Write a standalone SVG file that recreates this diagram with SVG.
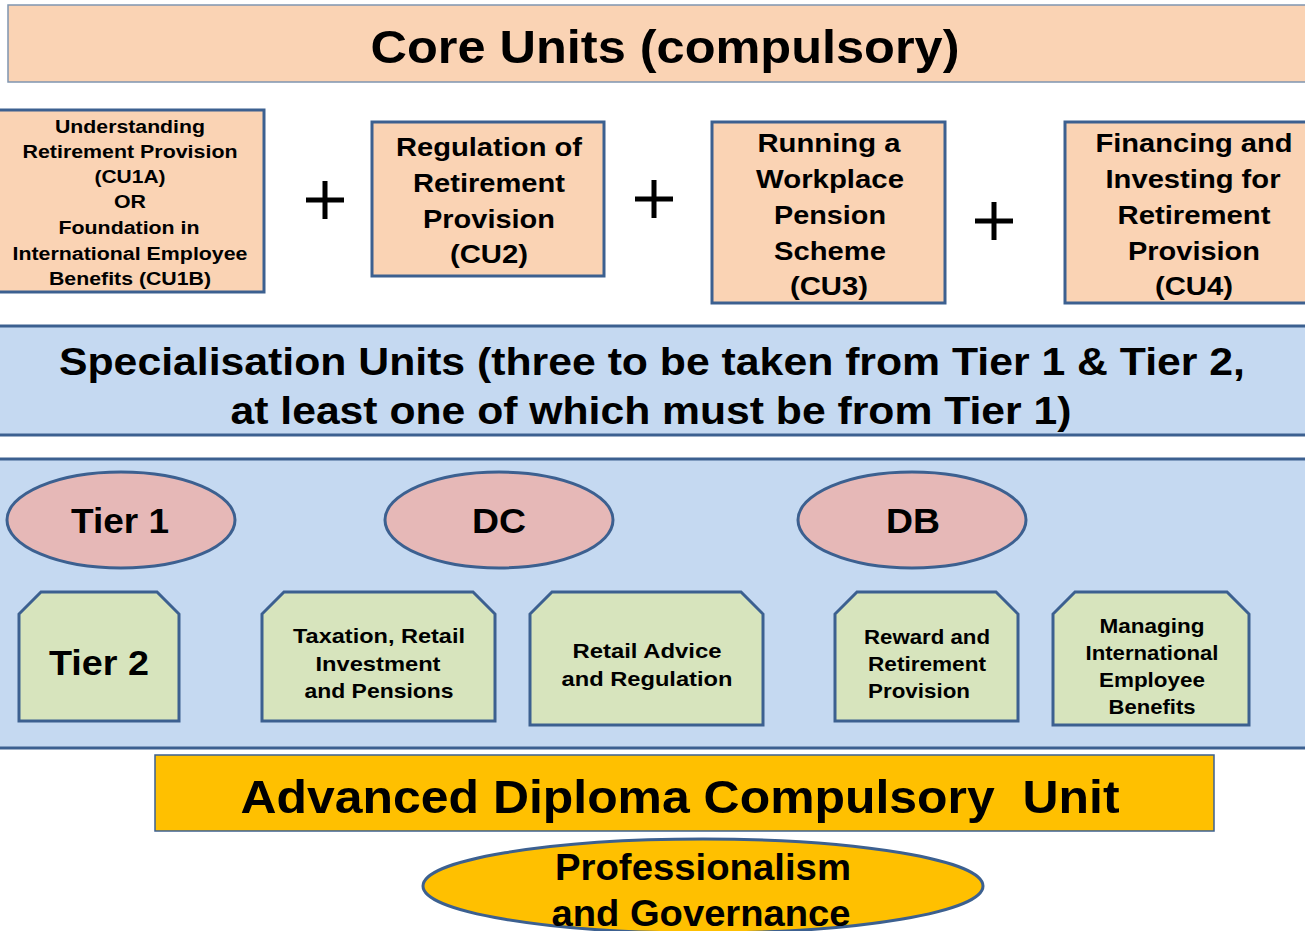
<svg xmlns="http://www.w3.org/2000/svg" width="1305" height="931" viewBox="0 0 1305 931">
<style>
text{font-family:"Liberation Sans",Arial,sans-serif;font-weight:bold;fill:#000;text-anchor:middle}
.core{fill:#FAD3B4;stroke:#3C6090;stroke-width:3}
.spec{fill:#C5D9F1;stroke:#3C6090;stroke-width:3}
.ell{fill:#E6B8B7;stroke:#3C6090;stroke-width:3}
.oct{fill:#D7E4BD;stroke:#3C6090;stroke-width:3}
.gold{fill:#FFC000;stroke:#3C6090}
.plus{stroke:#000;stroke-width:5}
.t17{font-size:18px}
.t24{font-size:25px}
.t21{font-size:21px}
.t34{font-size:35px}
</style>
<g id="core-banner">
<rect x="8" y="5" width="1305" height="77" fill="#FAD3B4" stroke="#7F95B0" stroke-width="1.5"/>
<text x="665" y="63" font-size="47" textLength="589" lengthAdjust="spacingAndGlyphs">Core Units (compulsory)</text>
</g>
<g id="cu1" class="t17">
<rect class="core" x="-2" y="110" width="266" height="182"/>
<text class="t17" x="130" y="133" textLength="150" lengthAdjust="spacingAndGlyphs">Understanding</text>
<text class="t17" x="130" y="158" textLength="215" lengthAdjust="spacingAndGlyphs">Retirement Provision</text>
<text class="t17" x="130" y="183" textLength="71" lengthAdjust="spacingAndGlyphs">(CU1A)</text>
<text class="t17" x="130" y="208" textLength="32" lengthAdjust="spacingAndGlyphs">OR</text>
<text class="t17" x="129" y="234" textLength="141" lengthAdjust="spacingAndGlyphs">Foundation in</text>
<text class="t17" x="130" y="260" textLength="235" lengthAdjust="spacingAndGlyphs">International Employee</text>
<text class="t17" x="130" y="285" textLength="162" lengthAdjust="spacingAndGlyphs">Benefits (CU1B)</text>
</g>
<g id="plus1"><path class="plus" d="M306 200h38M325 181v38"/></g>
<g id="cu2">
<rect class="core" x="372" y="122" width="232" height="154"/>
<text class="t24" x="489" y="156" textLength="186" lengthAdjust="spacingAndGlyphs">Regulation of</text>
<text class="t24" x="489" y="192" textLength="152" lengthAdjust="spacingAndGlyphs">Retirement</text>
<text class="t24" x="489" y="228" textLength="132" lengthAdjust="spacingAndGlyphs">Provision</text>
<text class="t24" x="489" y="263" textLength="78" lengthAdjust="spacingAndGlyphs">(CU2)</text>
</g>
<g id="plus2"><path class="plus" d="M635 199h38M654 180v38"/></g>
<g id="cu3">
<rect class="core" x="712" y="122" width="233" height="181"/>
<text class="t24" x="829" y="152" textLength="143" lengthAdjust="spacingAndGlyphs">Running a</text>
<text class="t24" x="830" y="188" textLength="148" lengthAdjust="spacingAndGlyphs">Workplace</text>
<text class="t24" x="830" y="224" textLength="112" lengthAdjust="spacingAndGlyphs">Pension</text>
<text class="t24" x="830" y="260" textLength="112" lengthAdjust="spacingAndGlyphs">Scheme</text>
<text class="t24" x="829" y="295" textLength="78" lengthAdjust="spacingAndGlyphs">(CU3)</text>
</g>
<g id="plus3"><path class="plus" d="M975 221h38M994 202v38"/></g>
<g id="cu4">
<rect class="core" x="1065" y="122" width="250" height="181"/>
<text class="t24" x="1194" y="152" textLength="197" lengthAdjust="spacingAndGlyphs">Financing and</text>
<text class="t24" x="1193" y="188" textLength="175" lengthAdjust="spacingAndGlyphs">Investing for</text>
<text class="t24" x="1194" y="224" textLength="153" lengthAdjust="spacingAndGlyphs">Retirement</text>
<text class="t24" x="1194" y="260" textLength="132" lengthAdjust="spacingAndGlyphs">Provision</text>
<text class="t24" x="1194" y="295" textLength="78" lengthAdjust="spacingAndGlyphs">(CU4)</text>
</g>
<g id="spec-banner">
<rect class="spec" x="-5" y="326" width="1315" height="109"/>
<text font-size="38" x="652" y="375" textLength="1186" lengthAdjust="spacingAndGlyphs">Specialisation Units (three to be taken from Tier 1 &amp; Tier 2,</text>
<text font-size="38" x="651" y="424" textLength="841" lengthAdjust="spacingAndGlyphs">at least one of which must be from Tier 1)</text>
</g>
<g id="tier-area">
<rect class="spec" x="-5" y="459" width="1315" height="289"/>
</g>
<g id="tier1">
<ellipse class="ell" cx="121" cy="520" rx="114" ry="48"/>
<text class="t34" x="120" y="533" textLength="98" lengthAdjust="spacingAndGlyphs">Tier 1</text>
</g>
<g id="dc">
<ellipse class="ell" cx="499" cy="520" rx="114" ry="48"/>
<text class="t34" x="499" y="533" textLength="54" lengthAdjust="spacingAndGlyphs">DC</text>
</g>
<g id="db">
<ellipse class="ell" cx="912" cy="520" rx="114" ry="48"/>
<text class="t34" x="913" y="533" textLength="54" lengthAdjust="spacingAndGlyphs">DB</text>
</g>
<g id="tier2">
<path class="oct" d="M41 592H157L179 614V721H19V614Z"/>
<text class="t34" x="99" y="675" textLength="100" lengthAdjust="spacingAndGlyphs">Tier 2</text>
</g>
<g id="taxation">
<path class="oct" d="M284 592H473L495 614V721H262V614Z"/>
<text class="t21" x="379" y="643" textLength="172" lengthAdjust="spacingAndGlyphs">Taxation, Retail</text>
<text class="t21" x="378" y="671" textLength="125" lengthAdjust="spacingAndGlyphs">Investment</text>
<text class="t21" x="379" y="698" textLength="149" lengthAdjust="spacingAndGlyphs">and Pensions</text>
</g>
<g id="retail">
<path class="oct" d="M552 592H741L763 614V725H530V614Z"/>
<text class="t21" x="647" y="658" textLength="149" lengthAdjust="spacingAndGlyphs">Retail Advice</text>
<text class="t21" x="647" y="686" textLength="171" lengthAdjust="spacingAndGlyphs">and Regulation</text>
</g>
<g id="reward">
<path class="oct" d="M857 592H996L1018 614V721H835V614Z"/>
<text class="t21" style="text-anchor:start" x="864" y="644" textLength="126" lengthAdjust="spacingAndGlyphs">Reward and</text>
<text class="t21" style="text-anchor:start" x="868" y="671" textLength="118" lengthAdjust="spacingAndGlyphs">Retirement</text>
<text class="t21" style="text-anchor:start" x="868" y="698" textLength="102" lengthAdjust="spacingAndGlyphs">Provision</text>
</g>
<g id="managing">
<path class="oct" d="M1075 592H1227L1249 614V725H1053V614Z"/>
<text class="t21" x="1152" y="633" textLength="105" lengthAdjust="spacingAndGlyphs">Managing</text>
<text class="t21" x="1152" y="660" textLength="133" lengthAdjust="spacingAndGlyphs">International</text>
<text class="t21" x="1152" y="687" textLength="106" lengthAdjust="spacingAndGlyphs">Employee</text>
<text class="t21" x="1152" y="714" textLength="87" lengthAdjust="spacingAndGlyphs">Benefits</text>
</g>
<g id="advanced">
<rect class="gold" x="155" y="755" width="1059" height="76" stroke-width="1.5"/>
<text x="680" y="813" font-size="47" style="white-space:pre" textLength="879" lengthAdjust="spacingAndGlyphs">Advanced Diploma Compulsory  Unit</text>
</g>
<g id="professionalism">
<ellipse class="gold" cx="703" cy="886" rx="280" ry="47" stroke-width="3"/>
<text font-size="37" x="703" y="880" textLength="296" lengthAdjust="spacingAndGlyphs">Professionalism</text>
<text font-size="37" x="701" y="926" textLength="299" lengthAdjust="spacingAndGlyphs">and Governance</text>
</g>
<g id="connectors"></g>
</svg>
